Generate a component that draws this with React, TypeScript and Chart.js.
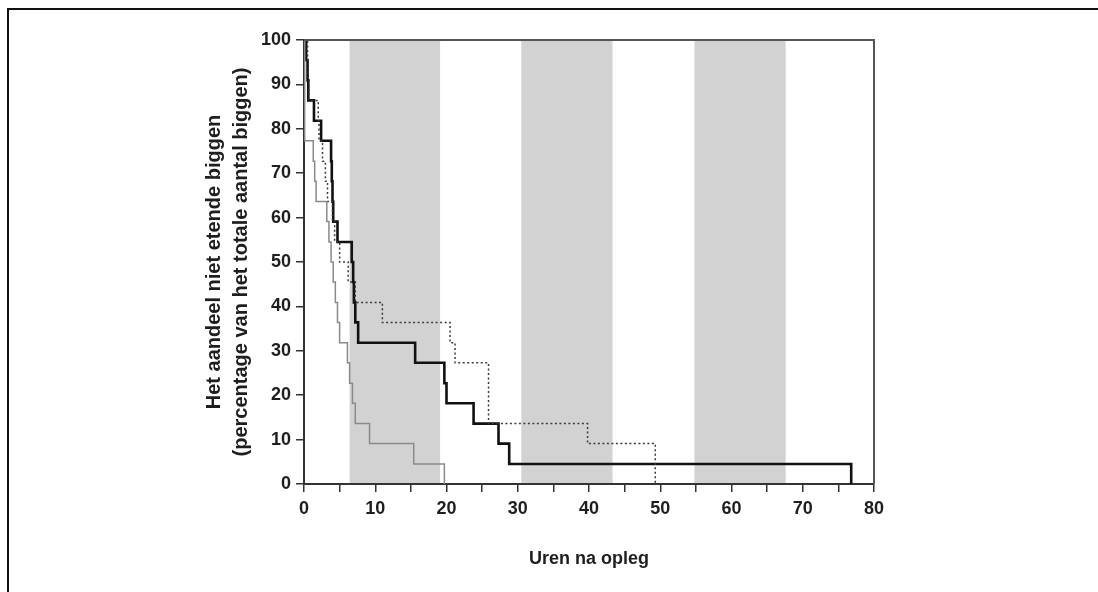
import React, { useEffect, useRef } from 'react';
import { Chart, registerables } from 'chart.js';

Chart.register(...registerables);

// ---- data ----
const xTickValues = [0, 5, 10, 15, 20, 25, 30, 35, 40, 45, 50, 55, 60, 65, 70, 75, 80];
const xTickLabels = ['0', '10', '20', '30', '40', '50', '60', '70', '80'];
const yTickValues = [0, 10, 20, 30, 40, 50, 60, 70, 80, 90, 100];
const yTickLabels = ['0', '10', '20', '30', '40', '50', '60', '70', '80', '90', '100'];

const xTitle = 'Uren na opleg';
const yTitle = ['Het aandeel niet etende biggen', '(percentage van het totale aantal biggen)'];

// shaded periods (hours)
const bandStarts = [6.4, 30.5, 54.8];
const bandEnds = [19.1, 43.3, 67.6];

// thick black curve
const blackTimes = [0, 0.3, 0.5, 0.6, 1.4, 2.4, 3.8, 3.9, 4.0, 4.1, 4.7, 6.7, 6.9, 7.0, 7.2, 7.6, 15.6, 19.7, 20.0, 23.8, 27.3, 28.8, 76.8];
const blackValues = [100, 95.5, 90.9, 86.4, 81.8, 77.3, 72.7, 68.2, 63.6, 59.1, 54.5, 50, 45.5, 40.9, 36.4, 31.8, 27.3, 22.7, 18.2, 13.6, 9.1, 4.5, 0];

// dotted curve
const dottedTimes = [0, 0.5, 0.6, 0.7, 2.0, 2.1, 2.6, 3.0, 3.3, 4.0, 4.3, 5.0, 6.2, 7.2, 11.0, 20.5, 21.2, 25.9, 25.9, 25.9, 39.8, 49.3, 49.3];
const dottedValues = [100, 95.5, 90.9, 86.4, 81.8, 77.3, 72.7, 68.2, 63.6, 59.1, 54.5, 50, 45.5, 40.9, 36.4, 31.8, 27.3, 22.7, 18.2, 13.6, 9.1, 4.5, 0];

// thin grey curve
const greyTimes = [0, 0.1, 1.3, 1.5, 1.7, 3.2, 3.5, 3.8, 4.1, 4.4, 4.7, 5.0, 6.1, 6.4, 6.8, 7.2, 9.2, 15.4, 19.7];
const greyValues = [100, 77.3, 72.7, 68.2, 63.6, 59.1, 54.5, 50, 45.5, 40.9, 36.4, 31.8, 27.3, 22.7, 18.2, 13.6, 9.1, 4.5, 0];

const FONT = '"Liberation Sans", Arial, sans-serif';
const TEXT = '#1e1e1e';

const toPoints = (xs: number[], ys: number[]) => xs.map((x, i) => ({ x, y: ys[i] }));

const bandsPlugin = {
  id: 'bandsAndFrame',
  beforeDraw(chart: any) {
    const { ctx, chartArea, scales } = chart;
    ctx.save();
    ctx.fillStyle = '#d2d2d2';
    bandStarts.forEach((s, i) => {
      const x1 = scales.x.getPixelForValue(s);
      const x2 = scales.x.getPixelForValue(bandEnds[i]);
      ctx.fillRect(x1, chartArea.top, x2 - x1, chartArea.bottom - chartArea.top);
    });
    ctx.restore();
  },
  afterDraw(chart: any) {
    const { ctx, chartArea } = chart;
    ctx.save();
    ctx.strokeStyle = '#555';
    ctx.lineWidth = 2;
    ctx.beginPath();
    ctx.moveTo(chartArea.left, chartArea.top);
    ctx.lineTo(chartArea.right, chartArea.top);
    ctx.lineTo(chartArea.right, chartArea.bottom);
    ctx.stroke();
    ctx.restore();
  },
};

export default function App() {
  const ref = useRef<HTMLCanvasElement>(null);
  useEffect(() => {
    if (!ref.current) return;
    const chart = new Chart(ref.current, {
      type: 'line',
      data: {
        datasets: [
          {
            label: 'grey',
            data: toPoints(greyTimes, greyValues),
            borderColor: '#8a8a8a',
            borderWidth: 1.5,
            stepped: true,
            pointRadius: 0,
            fill: false,
          },
          {
            label: 'dotted',
            data: toPoints(dottedTimes, dottedValues),
            borderColor: '#3a3a3a',
            borderWidth: 1.5,
            borderDash: [2, 2.5],
            stepped: true,
            pointRadius: 0,
            fill: false,
          },
          {
            label: 'black',
            data: toPoints(blackTimes, blackValues),
            borderColor: '#111',
            borderWidth: 2.6,
            stepped: true,
            pointRadius: 0,
            fill: false,
          },
        ],
      },
      options: {
        responsive: false,
        animation: false,
        layout: { padding: { left: 0, right: 224, top: 40, bottom: 0 } },
        plugins: { legend: { display: false }, tooltip: { enabled: false } },
        scales: {
          x: {
            type: 'linear',
            min: 0,
            max: 80,
            afterBuildTicks: (axis: any) => {
              axis.ticks = xTickValues.map((v) => ({ value: v }));
            },
            afterFit: (axis: any) => {
              axis.height = 108;
            },
            ticks: {
              autoSkip: false,
              maxRotation: 0,
              padding: 6,
              color: TEXT,
              font: { family: FONT, size: 18, weight: 'bold' },
              callback: (v: any) => (xTickLabels.includes(String(v)) ? String(v) : ''),
            },
            grid: { drawOnChartArea: false, drawTicks: true, tickLength: 8, color: '#333', lineWidth: 1.5 },
            border: { display: true, color: '#333', width: 2 },
            title: {
              display: true,
              text: xTitle,
              color: TEXT,
              font: { family: FONT, size: 18, weight: 'bold' },
              padding: { top: 0, bottom: 22 },
            },
          },
          y: {
            type: 'linear',
            min: 0,
            max: 100,
            afterBuildTicks: (axis: any) => {
              axis.ticks = yTickValues.map((v) => ({ value: v }));
            },
            afterFit: (axis: any) => {
              axis.width = 304;
            },
            ticks: {
              padding: 5,
              color: TEXT,
              font: { family: FONT, size: 18, weight: 'bold' },
              callback: (v: any) => (yTickLabels.includes(String(v)) ? String(v) : ''),
            },
            grid: { drawOnChartArea: false, drawTicks: true, tickLength: 8, color: '#333', lineWidth: 1.5 },
            border: { display: true, color: '#333', width: 2 },
            title: {
              display: true,
              text: yTitle,
              color: TEXT,
              font: { family: FONT, size: 20, weight: 'bold', lineHeight: '27px' },
              padding: { top: 201, bottom: 0 },
            },
          },
        },
      },
      plugins: [bandsPlugin],
    } as any);
    return () => chart.destroy();
  }, []);

  return (
    <div>
      <div
        style={{
          position: 'fixed',
          left: 7,
          top: 8,
          right: 0,
          bottom: 0,
          borderTop: '2px solid #111',
          borderLeft: '2px solid #111',
        }}
      />
      <canvas
        ref={ref}
        width={1098}
        height={592}
        style={{ position: 'fixed', left: 0, top: 0, width: 1098, height: 592 }}
      />
    </div>
  );
}
